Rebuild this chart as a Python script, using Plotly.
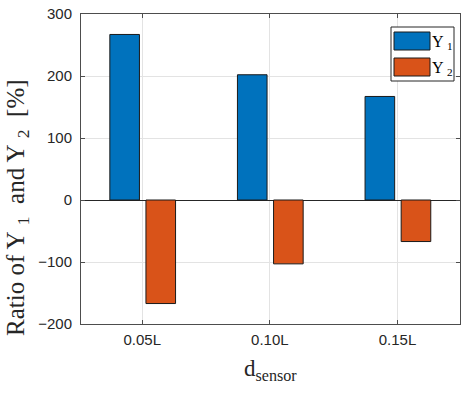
import plotly.graph_objects as go

# ---- data ----
categories = ["0.05L", "0.10L", "0.15L"]
y1_values = [267, 202, 167]
y2_values = [-167, -103, -67]
series_names = ["Y <sub>1</sub>", "Y <sub>2</sub>"]
y_ticks = [-200, -100, 0, 100, 200, 300]

# ---- styles ----
blue = "#0072BD"
orange = "#D95319"
edge = "#1a1a1a"
axis_col = "#4d4d4d"
text_col = "#262626"
grid_col = "#e3e3e3"
W, H = 466, 394
L, T = 81, 14
pw, ph = 379, 310
R, B = W - L - pw, H - T - ph

x_pos = list(range(1, len(categories) + 1))

fig = go.Figure()
fig.add_bar(x=x_pos, y=y1_values, width=0.232, offset=-0.254, name="Y1",
            marker=dict(color=blue, line=dict(color=edge, width=1)), showlegend=False)
fig.add_bar(x=x_pos, y=y2_values, width=0.232, offset=0.029, name="Y2",
            marker=dict(color=orange, line=dict(color=edge, width=1)), showlegend=False)

def px(x):
    return (x - L) / pw

def py(y):
    return (T + ph - y) / ph

shapes = []
annotations = []
# custom legend
shapes.append(dict(type="rect", xref="paper", yref="paper", x0=px(391), x1=px(454), y0=py(81), y1=py(27),
                   line=dict(color="#262626", width=1), fillcolor="white", layer="above"))
for i, (col, name) in enumerate(zip([blue, orange], series_names)):
    top = 32 + i * 26
    shapes.append(dict(type="rect", xref="paper", yref="paper", x0=px(394), x1=px(430),
                       y0=py(top + 18), y1=py(top), line=dict(color=edge, width=1), fillcolor=col, layer="above"))
    annotations.append(dict(text=name, xref="paper", yref="paper", x=px(430), y=py(top + 10),
                            xanchor="left", yanchor="middle", showarrow=False,
                            font=dict(family="Liberation Serif", size=16, color="black")))

# axis titles
annotations.append(dict(text="Ratio of Y&nbsp;<sub>1</sub>&nbsp; and Y&nbsp;<sub>2</sub>&nbsp; [%]",
                        xref="paper", yref="paper",
                        x=px(18), y=py(208), xanchor="center", yanchor="middle", textangle=-90,
                        showarrow=False, font=dict(family="Liberation Serif", size=25, color=text_col)))
annotations.append(dict(text="d<sub>sensor</sub>", xref="paper", yref="paper",
                        x=px(270), y=py(370), xanchor="center", yanchor="middle",
                        showarrow=False, font=dict(family="Liberation Serif", size=23, color=text_col)))

fig.update_layout(
    width=W, height=H,
    margin=dict(l=L, r=R, t=T, b=B, pad=0),
    plot_bgcolor="white", paper_bgcolor="white",
    barmode="overlay",
    shapes=shapes, annotations=annotations,
    font=dict(family="Liberation Sans", size=15, color=text_col),
)
fig.update_xaxes(range=[0.52, 3.49], tickvals=x_pos, ticktext=categories,
                 tickfont=dict(family="Liberation Sans", size=15, color=text_col),
                 showline=True, linecolor=axis_col, linewidth=1, mirror="ticks",
                 ticks="inside", ticklen=4, tickcolor=axis_col, ticklabeloverflow="allow",
                 ticklabelstandoff=2,
                 showgrid=True, gridcolor=grid_col, zeroline=False)
fig.update_yaxes(range=[-200, 300], tickvals=y_ticks,
                 tickfont=dict(family="Liberation Sans", size=15, color=text_col),
                 showline=True, linecolor=axis_col, linewidth=1, mirror="ticks",
                 ticks="inside", ticklen=4, tickcolor=axis_col, ticklabeloverflow="allow",
                 ticklabelstandoff=5,
                 showgrid=True, gridcolor=grid_col,
                 zeroline=True, zerolinecolor="#262626", zerolinewidth=1)

fig.write_html("out.html", config={"displayModeBar": False},
               post_script="document.body.style.margin='0';document.body.style.overflow='hidden';")
